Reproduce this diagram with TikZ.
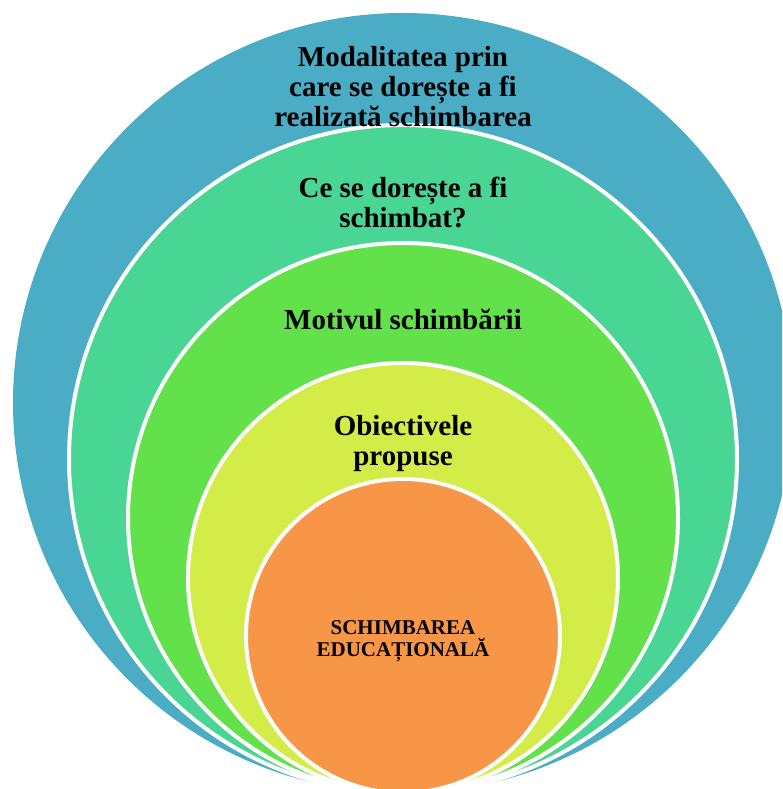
\documentclass[tikz,border=0pt]{standalone}
\usepackage{fontspec}
\setmainfont{Liberation Serif}
\usepackage{tikz}
\usetikzlibrary{%
  positioning,
}
\definecolor{ringblue}{HTML}{4BACC6}
\definecolor{ringteal}{HTML}{49D594}
\definecolor{ringgreen}{HTML}{62E14A}
\definecolor{ringyellow}{HTML}{D4EC47}
\definecolor{ringorange}{HTML}{F79646}

\begin{document}
\begin{tikzpicture}[
    x = 0.75pt, y = 0.75pt,
    ring/.style = {
      circle,
      draw = white, line width = 3pt,
      inner sep = 0pt, outer sep = 0pt,
    },
    bigtext/.style = {
      align = center, inner sep = 0pt,
      font = {\bfseries\fontsize{21.75pt}{22.5pt}\selectfont},
    },
    smalltext/.style = {
      align = center, inner sep = 0pt,
      font = {\bfseries\fontsize{15.75pt}{16.5pt}\selectfont},
    },
  ]
        \useasboundingbox (0,0) rectangle (782,789);
        \clip (0,0) rectangle (782,789);

        % rings, from outside in
        \node (modalitate) [ring, draw = none, fill = ringblue,   minimum size = 585pt]   at (403,386) {};
        \node (schimbat)   [ring, fill = ringteal,   minimum size = 501pt]   at (403,330) {};
        \node (motiv)      [ring, fill = ringgreen,  minimum size = 412.5pt] at (403,271) {};
        \node (obiective)  [ring, fill = ringyellow, minimum size = 322.5pt] at (403,211) {};
        \node (centru)     [ring, fill = ringorange, minimum size = 235.5pt] at (403,153) {};

        % labels
        \node (modalitateT) [bigtext, below = 24.75pt of modalitate.north]
          {Modalitatea prin\\care se dorește a fi\\realizată schimbarea};
        \node (schimbatT) [bigtext, below = 39pt of schimbat.north]
          {Ce se dorește a fi\\schimbat?};
        \node (motivT) [bigtext, below = 49.5pt of motiv.north]
          {Motivul schimbării};
        \node (obiectiveT) [bigtext, below = 39pt of obiective.north]
          {Obiectivele\\propuse};
        \node (centruT) [smalltext, below = 105.75pt of centru.north]
          {SCHIMBAREA\\EDUCAȚIONALĂ};
      \end{tikzpicture}
\end{document}
